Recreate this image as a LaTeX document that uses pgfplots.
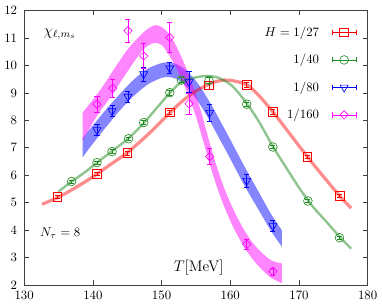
\documentclass[border=0pt]{standalone}
\usepackage{pgfplots}
\pgfplotsset{compat=1.18}
\usepgfplotslibrary{fillbetween}
\definecolor{cred}{rgb}{1,0,0}
\definecolor{cgreen}{rgb}{0.13,0.55,0.13}
\definecolor{cblue}{rgb}{0,0,1}
\definecolor{cmag}{rgb}{1,0,1}
\begin{document}
\begin{tikzpicture}
\begin{axis}[
 scale only axis, width=268.5pt, height=214.3pt,
 xmin=130, xmax=180, ymin=2, ymax=12,
 xtick={130,140,...,180}, ytick={2,3,...,12},
 tick align=inside, major tick length=3.5pt,
 axis line style={draw=black!75, line width=0.6pt},
 tick style={black!75, line width=0.5pt},
 xticklabel style={yshift=-1.4pt}, yticklabel style={xshift=-2pt},
 legend style={at={(rel axis cs:0.968,0.952)}, anchor=north east, draw=none, fill=none, row sep=8.5pt, inner sep=0pt, column sep=8pt},
 legend cell align=right, legend plot pos=right,
 legend image code/.code={
  \draw[sharp plot, mark repeat=2, mark phase=2] plot coordinates {(0pt,0pt) (9.4pt,0pt) (18.8pt,0pt)};
  \draw[sharp plot, mark=none] (0pt,-2pt) -- (0pt,2pt) (18.8pt,-2pt) -- (18.8pt,2pt);
 },
]
% red fit line
\addplot[smooth, draw=cred, opacity=0.45, line width=2.5pt, forget plot] coordinates {
(132.6,4.94)(135,5.20)(137.5,5.55)(140,5.94)(142.5,6.38)(145,6.82)(148,7.48)(151,8.22)(153,8.70)(155,9.07)(157,9.33)(158,9.42)(159.2,9.47)(160.5,9.44)(162.4,9.30)(164,8.95)(166.2,8.31)(168,7.73)(170,7.07)(172,6.43)(174,5.82)(176,5.22)(177.6,4.80)};
% green fit line
\addplot[smooth, draw=cgreen, opacity=0.5, line width=1.9pt, forget plot] coordinates {
(135,5.40)(136.9,5.77)(138.8,6.10)(140.6,6.46)(142.8,6.88)(145.2,7.35)(147.4,7.90)(149.3,8.45)(151.2,9.00)(152.9,9.40)(154.7,9.55)(156.5,9.62)(158.3,9.55)(160.3,9.25)(162.4,8.62)(164.3,7.90)(166.2,7.05)(168,6.33)(170,5.55)(172,4.86)(174,4.30)(176,3.73)(177.6,3.32)};
% blue band
\addplot[name path=bu, draw=none, smooth, forget plot] coordinates {
(138.5,7.35)(140,7.81)(142,8.42)(144,8.98)(146,9.50)(148,9.89)(150,10.09)(151,10.12)(152,10.07)(153,9.93)(154,9.72)(155,9.44)(156,9.08)(157,8.67)(158,8.23)(160,7.30)(162,6.35)(164,5.45)(166,4.56)(167.5,4.00)};
\addplot[name path=bl, draw=none, smooth, forget plot] coordinates {
(138.5,6.65)(140,7.15)(142,7.78)(144,8.38)(146,8.90)(148,9.31)(150,9.55)(151,9.58)(152,9.53)(153,9.37)(154,9.12)(155,8.80)(156,8.42)(157,7.99)(158,7.53)(160,6.60)(162,5.65)(164,4.79)(166,3.94)(167.5,3.40)};
\addplot[fill=cblue, fill opacity=0.48, draw=none, forget plot] fill between[of=bu and bl];
% magenta band
\addplot[name path=mu, draw=none, smooth, forget plot] coordinates {
(138.5,8.28)(140,8.75)(141,9.08)(142,9.45)(143,9.84)(144,10.21)(145,10.57)(146,10.86)(147,11.12)(148,11.34)(149,11.47)(150,11.41)(151,11.18)(152,10.78)(153,10.25)(154,9.65)(155,8.95)(156,8.10)(157,7.18)(158,6.34)(159,5.61)(160,5.00)(161,4.47)(162,4.01)(163,3.62)(164,3.32)(165,3.08)(166,2.89)(167.5,2.78)};
\addplot[name path=ml, draw=none, smooth, forget plot] coordinates {
(138.5,7.24)(140,7.91)(141,8.32)(142,8.65)(143,9.00)(144,9.39)(145,9.77)(146,10.14)(147,10.48)(148,10.72)(149,10.83)(150,10.75)(151,10.42)(152,9.98)(153,9.45)(154,8.85)(155,8.15)(156,7.30)(157,6.42)(158,5.62)(159,4.93)(160,4.34)(161,3.83)(162,3.39)(163,3.02)(164,2.72)(165,2.46)(166,2.25)(167.5,2.06)};
\addplot[fill=cmag, fill opacity=0.48, draw=none, forget plot] fill between[of=mu and ml];
% data points
\addplot[cred, only marks, mark=square, mark size=3.4pt, mark options={solid, line width=0.5pt},
 error bars/.cd, y dir=both, y explicit, error bar style={line width=0.5pt}, error mark options={rotate=90, mark size=2pt, line width=0.5pt}]
 coordinates {
(134.85,5.20) +- (0,0.05)
(140.6,6.04) +- (0,0.05)
(145.0,6.81) +- (0,0.07)
(151.2,8.29) +- (0,0.08)
(156.9,9.28) +- (0,0.15)
(162.4,9.30) +- (0,0.08)
(166.2,8.31) +- (0,0.08)
(171.2,6.68) +- (0,0.06)
(175.9,5.24) +- (0,0.05)};
\addlegendentry{$H=1/27$}
\addplot[cgreen, only marks, mark=o, mark size=3.4pt, mark options={solid, line width=0.5pt},
 error bars/.cd, y dir=both, y explicit, error bar style={line width=0.5pt}, error mark options={rotate=90, mark size=2pt, line width=0.5pt}]
 coordinates {
(136.9,5.77) +- (0,0.05)
(140.6,6.46) +- (0,0.05)
(142.8,6.86) +- (0,0.07)
(145.2,7.33) +- (0,0.07)
(147.4,7.92) +- (0,0.08)
(151.2,9.01) +- (0,0.08)
(152.9,9.47) +- (0,0.10)
(156.9,9.46) +- (0,0.10)
(162.4,8.59) +- (0,0.07)
(166.2,7.03) +- (0,0.06)
(171.3,5.06) +- (0,0.05)
(175.9,3.72) +- (0,0.04)};
\addlegendentry{$1/40$}
\addplot[cblue, only marks, mark=triangle, mark size=3.6pt, mark options={solid, rotate=180, line width=0.5pt},
 error bars/.cd, y dir=both, y explicit, error bar style={line width=0.5pt}, error mark options={rotate=90, mark size=2pt, line width=0.5pt}]
 coordinates {
(140.6,7.65) +- (0,0.20)
(142.8,8.34) +- (0,0.20)
(145.1,8.87) +- (0,0.20)
(147.4,9.69) +- (0,0.25)
(151.2,9.90) +- (0,0.20)
(154.0,9.40) +- (0,0.38)
(157.0,8.28) +- (0,0.30)
(162.4,5.80) +- (0,0.23)
(166.2,4.15) +- (0,0.20)};
\addlegendentry{$1/80$}
\addplot[cmag, only marks, mark=square, mark size=2.3pt, mark options={solid, rotate=45, line width=0.5pt},
 error bars/.cd, y dir=both, y explicit, error bar style={line width=0.5pt}, error mark options={rotate=90, mark size=2pt, line width=0.5pt}]
 coordinates {
(140.6,8.59) +- (0,0.28)
(142.9,9.17) +- (0,0.33)
(145.1,11.27) +- (0,0.43)
(147.4,10.35) +- (0,0.45)
(151.2,11.02) +- (0,0.55)
(154.0,8.61) +- (0,0.38)
(157.0,6.68) +- (0,0.30)
(162.4,3.48) +- (0,0.20)
(166.2,2.49) +- (0,0.13)};
\addlegendentry{$1/160$}
\node[anchor=west, inner sep=0pt] at (axis cs:132.8,11.15) {\large $\chi_{\ell,m_s}$};
\node[anchor=west, inner sep=0pt] at (axis cs:132.3,3.88) {$N_\tau=8$};
\node[inner sep=0pt] at (axis cs:155.4,2.62) {\large $T$[MeV]};
\end{axis}
\path ([xshift=-18.75pt,yshift=-17.2pt]current axis.south west) rectangle ([xshift=11.2pt,yshift=8.36pt]current axis.north east);
\end{tikzpicture}
\end{document}
